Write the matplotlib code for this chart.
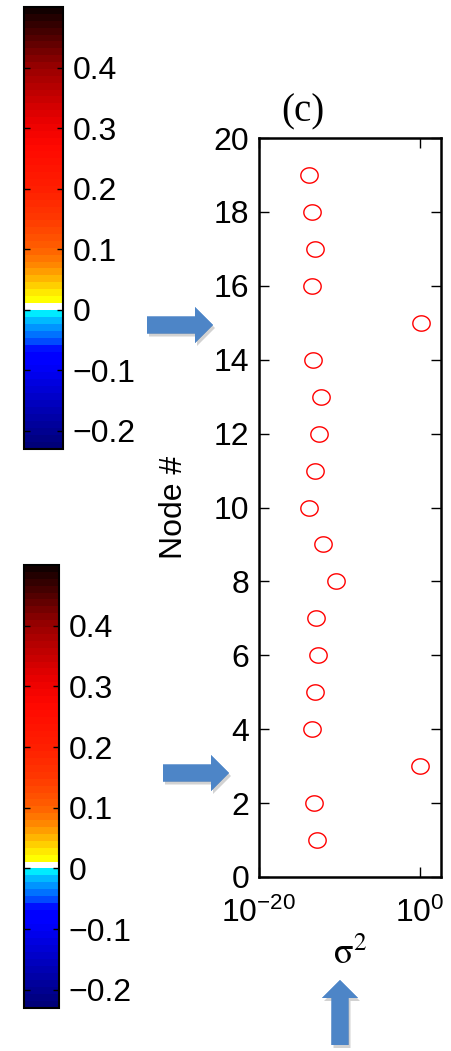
import numpy as np
import matplotlib
matplotlib.use('Agg')
import matplotlib.pyplot as plt
from matplotlib.colors import ListedColormap, BoundaryNorm, LinearSegmentedColormap
from matplotlib.cm import ScalarMappable
from matplotlib.patches import FancyArrow
from matplotlib.path import Path
from matplotlib.ticker import FixedLocator, NullLocator, FuncFormatter

plt.rcParams['font.family'] = ['Liberation Sans', 'DejaVu Sans']
plt.rcParams['mathtext.fontset'] = 'custom'
plt.rcParams['mathtext.rm'] = 'Liberation Sans'
plt.rcParams['mathtext.it'] = 'Liberation Sans:italic'

# variance per node
nodes = np.arange(1, 20)
sigma2 = [1.7e-13, 6.6e-14, 0.91, 3.7e-14, 7.9e-14, 2.3e-13, 1.2e-13, 3.2e-11,
          1.0e-12, 1.6e-14, 1.0e-13, 2.5e-13, 5.4e-13, 5.5e-14, 1.3,
          3.7e-14, 7.9e-14, 3.7e-14, 1.6e-14]
yticks = list(range(0, 21, 2))
xticks = [1e-20, 1e0]

# colour scale of the two colorbars
cb_min, cb_max = -0.23, 0.5
cb_ticks = [-0.2, -0.1, 0, 0.1, 0.2, 0.3, 0.4]
neg_anchor_v = [-0.23, -0.09, -0.066, -0.055, -0.04, -0.02, -0.004]
neg_anchor_c = [(0, 0, 0.45), (0, 0, 1), (0, 0, 1), (0, 0.25, 1), (0, 0.45, 1), (0, 0.68, 1), (0, 0.95, 1)]
pos_anchor_v = [0.017, 0.03, 0.05, 0.07, 0.1, 0.15, 0.2, 0.27, 0.31, 0.4, 0.5]
pos_anchor_c = [(1, 1, 0), (1, 0.9, 0), (1, 0.72, 0), (1, 0.55, 0), (1, 0.38, 0), (1, 0.22, 0),
                (1, 0.12, 0), (1, 0.03, 0), (0.92, 0, 0), (0.6, 0, 0), (0.04, 0, 0)]

neg_edges = np.linspace(cb_min, 0, 21)
pos_edges = np.linspace(0, cb_max, 45)
edges = np.concatenate([neg_edges, pos_edges[1:]])
centers = (edges[:-1] + edges[1:]) / 2


def interp_colors(vals, av, ac):
    ac = np.array(ac)
    return np.stack([np.interp(vals, av, ac[:, k]) for k in range(3)], axis=1)


colors = np.vstack([interp_colors(centers[:20], neg_anchor_v, neg_anchor_c),
                    interp_colors(centers[20:], pos_anchor_v, pos_anchor_c)])
colors[20] = (1, 1, 1)
cmap = ListedColormap(colors)
norm = BoundaryNorm(edges, cmap.N)

W, H = 452, 1051
fig = plt.figure(figsize=(W / 100, H / 100), dpi=100)

# elliptic open marker
t = np.linspace(0, 2 * np.pi, 60)
ell = Path(np.column_stack([1.13 * np.cos(t), np.sin(t)]), closed=True)

ax = fig.add_axes([259 / W, 1 - 877 / H, 182 / W, 739 / H])
ax.plot(sigma2, nodes, linestyle='none', marker=ell, markersize=12.5,
        markerfacecolor='none', markeredgecolor='red', markeredgewidth=1.0)
ax.set_xscale('log')
ax.set_xlim(1e-20, 10 ** 2.6)
ax.set_ylim(0, 20)
ax.xaxis.set_major_locator(FixedLocator(xticks))
ax.xaxis.set_minor_locator(NullLocator())
ax.set_yticks(yticks)
ax.tick_params(direction='in', top=True, right=True, length=7, width=1,
               labelsize=23, pad=7)
ax.tick_params(axis='x', pad=15)
for s in ax.spines.values():
    s.set_linewidth(1.8)
ax.set_ylabel('Node #', fontsize=23)
ax.yaxis.set_label_coords((174 - 259) / 182, 0.5)
ax.yaxis.label.set_va('center')
ax.set_xlabel(r'$\mathrm{\sigma}^{2}$', fontsize=26, math_fontfamily='stix')
ax.xaxis.set_label_coords(0.5, (877 - 954) / 739)
ax.xaxis.label.set_va('center')
fig.text(303 / W, 1 - 112 / H, '(c)', family=['Liberation Serif'], fontsize=28,
         ha='center', va='center')

fmt = FuncFormatter(lambda v, p: ('%g' % v).replace('-', '\u2212'))
for rect in ([24 / W, 1 - 449 / H, 39 / W, 442 / H],
             [24 / W, 1 - 1008 / H, 35 / W, 443 / H]):
    cax = fig.add_axes(rect)
    cb = fig.colorbar(ScalarMappable(norm=norm, cmap=cmap), cax=cax,
                      spacing='proportional', ticks=cb_ticks, format=fmt)
    cb.outline.set_linewidth(1.5)
    cax.yaxis.set_minor_locator(NullLocator())
    cax.tick_params(direction='in', left=True, right=True, length=4, width=1,
                    labelsize=23, pad=7)

# block arrows
oax = fig.add_axes([0, 0, 1, 1], zorder=5)
oax.patch.set_visible(False)
oax.axis('off')
grad = LinearSegmentedColormap.from_list('g', [(0.40, 0.62, 0.87), (0.23, 0.43, 0.69)])
arrows = [(147, 325, 66, 0), (163, 773, 66, 0), (340, 1045, 0, -65)]
for x, y, dx, dy in arrows:
    sh = FancyArrow(x + 2, y + 3, dx, dy, width=17, head_width=36, head_length=18,
                    length_includes_head=True, color='gray', alpha=0.35, lw=0)
    oax.add_patch(sh)
    ar = FancyArrow(x, y, dx, dy, width=17, head_width=36, head_length=18,
                    length_includes_head=True, facecolor=(0.3, 0.52, 0.78), lw=0)
    oax.add_patch(ar)
    xy = ar.get_xy()
    x0, x1 = xy[:, 0].min(), xy[:, 0].max()
    y0, y1 = xy[:, 1].min(), xy[:, 1].max()
    im = oax.imshow(np.linspace(0, 1, 64).reshape(-1, 1), cmap=grad, aspect='auto',
                    extent=(x0, x1, y1, y0), origin='upper')
    im.set_clip_path(ar)
oax.set_xlim(0, W)
oax.set_ylim(H, 0)

fig.savefig('out.png', dpi=100)
